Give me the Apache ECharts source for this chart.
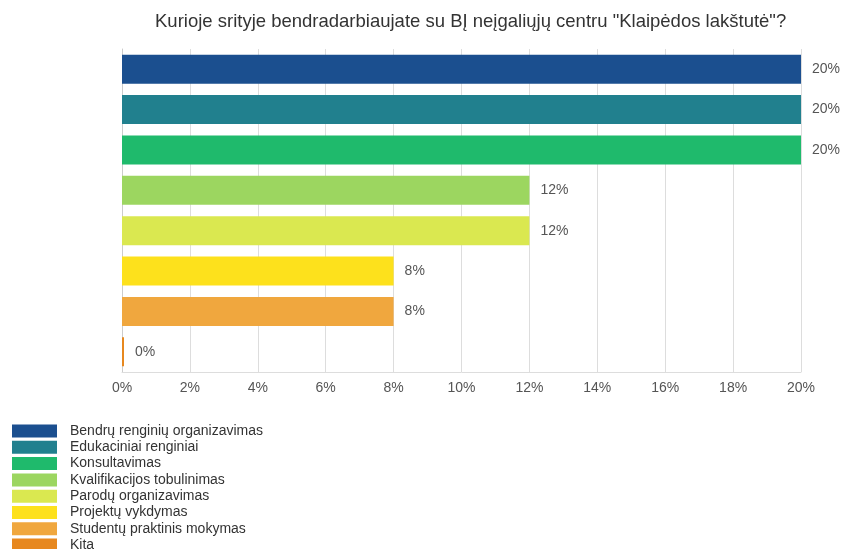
<!DOCTYPE html>
<html>
<head>
<meta charset="utf-8">
<script src="https://cdn.jsdelivr.net/npm/echarts@6/dist/echarts.min.js"></script>
<style>
  html, body { margin: 0; padding: 0; background: #fff; }
  #chart { width: 842px; height: 549px; }
</style>
</head>
<body>
<div id="chart"></div>
<script>
const categories = [
  'Bendrų renginių organizavimas',
  'Edukaciniai renginiai',
  'Konsultavimas',
  'Kvalifikacijos tobulinimas',
  'Parodų organizavimas',
  'Projektų vykdymas',
  'Studentų praktinis mokymas',
  'Kita'
];
const values = [20, 20, 20, 12, 12, 8, 8, 0];
const colors = ['#1b4f8f', '#21808e', '#1fba6c', '#9cd660', '#dae850', '#fde11c', '#f0a73e', '#e7881f'];

const chart = echarts.init(document.getElementById('chart'));

// one series per category so every bar gets its own legend entry
const series = categories.map(function (name, i) {
  const data = values.map(function (v, j) { return j === i ? v : '-'; });
  return {
    name: name,
    type: 'bar',
    stack: 'all',
    barCategoryGap: '28%',
    barMinHeight: 2,
    data: data,
    itemStyle: { color: colors[i] },
    label: {
      show: true,
      position: 'right',
      distance: 11,
      color: '#555',
      fontSize: 14,
      fontFamily: 'Liberation Sans',
      formatter: '{c}%'
    }
  };
});

chart.setOption({
  animation: false,
  title: {
    text: 'Kurioje srityje bendradarbiaujate su BĮ neįgaliųjų centru "Klaipėdos lakštutė"?',
    left: 150,
    top: 7,
    textStyle: { fontFamily: 'Liberation Sans', fontSize: 18.5, fontWeight: 'normal', color: '#333' }
  },
  legend: {
    orient: 'vertical',
    left: 12,
    top: 424,
    height: 160,
    padding: 0,
    itemWidth: 45,
    itemHeight: 13,
    itemGap: 2.3,
    icon: 'rect',
    textStyle: { fontFamily: 'Liberation Sans', fontSize: 14, lineHeight: 14, color: '#333', padding: [0, 0, 0, 8] },
    data: categories
  },
  grid: { left: 122, right: 41, top: 49, bottom: 177 },
  xAxis: {
    type: 'value',
    min: 0,
    max: 20,
    interval: 2,
    axisLine: { show: true, lineStyle: { color: '#ddd' } },
    axisTick: { show: false },
    splitLine: { show: true, lineStyle: { color: '#ddd' } },
    axisLabel: { color: '#555', fontSize: 14, fontFamily: 'Liberation Sans', margin: 9, formatter: '{value}%' }
  },
  yAxis: {
    type: 'category',
    inverse: true,
    data: categories,
    axisLine: { show: true, lineStyle: { color: '#ccc' } },
    axisTick: { show: false },
    axisLabel: { show: false }
  },
  series: series
});
</script>
</body>
</html>
